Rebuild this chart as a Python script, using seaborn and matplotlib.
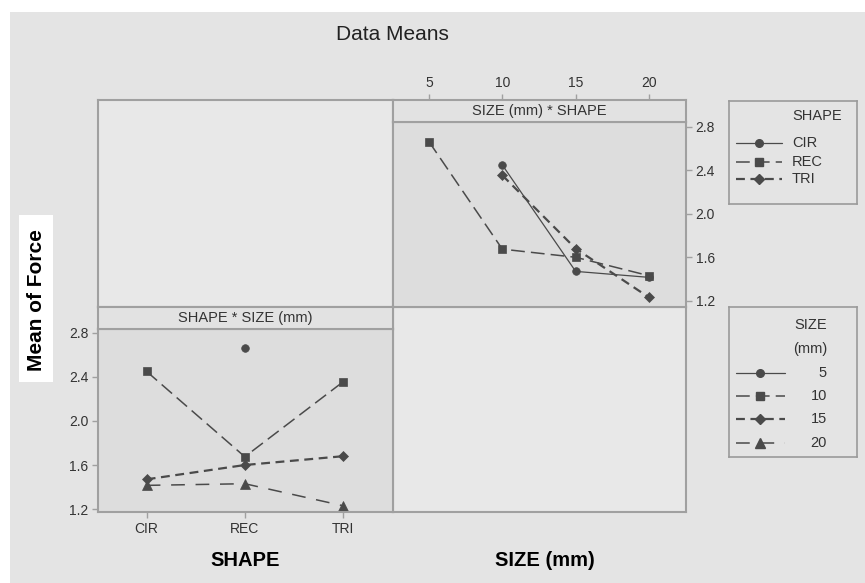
import numpy as np
import pandas as pd
import matplotlib
matplotlib.use("Agg")
import matplotlib.pyplot as plt
import seaborn as sns
from matplotlib.patches import Rectangle

# ---------------- data ----------------
shape_levels = ["CIR", "REC", "TRI"]
size_levels = [5, 10, 15, 20]
cir_means = [np.nan, 2.45, 1.47, 1.415]
rec_means = [2.665, 1.675, 1.60, 1.43]
tri_means = [np.nan, 2.355, 1.68, 1.23]
y_ticks = [1.2, 1.6, 2.0, 2.4, 2.8]

W, H = 865, 583
sns.set_theme(style="ticks")
plt.rcParams["font.family"] = ["Liberation Sans", "DejaVu Sans"]

rows = []
for shp, vals in zip(shape_levels, [cir_means, rec_means, tri_means]):
    for sz, v in zip(size_levels, vals):
        if not np.isnan(v):
            rows.append((shp, sz, v))
df = pd.DataFrame(rows, columns=["SHAPE", "SIZE", "Force"])
df["shape_pos"] = df["SHAPE"].map({s: i for i, s in enumerate(shape_levels)})

INK = "#4a4a4a"
FRAME = "#a0a0a0"
TXT = "#333333"
TICK_FS = 10
SMALL_FS = 10.5

shape_style = {
    "CIR": dict(marker="o", ls="-", lw=0.9, ms=5.5),
    "REC": dict(marker="s", ls=(0, (9, 4)), lw=1.1, ms=5.5),
    "TRI": dict(marker="D", ls=(0, (4, 2.5)), lw=1.6, ms=5.2),
}
size_style = {
    5: dict(marker="o", ls="-", lw=0.9, ms=5.5),
    10: dict(marker="s", ls=(0, (9, 4)), lw=1.1, ms=5.5),
    15: dict(marker="D", ls=(0, (4, 2.5)), lw=1.6, ms=5.2),
    20: dict(marker="^", ls=(0, (9, 7)), lw=1.1, ms=6.5),
}

fig = plt.figure(figsize=(W / 100, H / 100), dpi=100, facecolor="white")


def R(x0, y0, x1, y1):
    return [x0 / W, 1 - y1 / H, (x1 - x0) / W, (y1 - y0) / H]


# gray page background
fig.add_artist(Rectangle((10 / W, 0), (W - 10) / W, (H - 12) / H,
                         transform=fig.transFigure, facecolor="#e4e4e4",
                         edgecolor="none", zorder=-10))


def frame(ax, fc):
    ax.set_facecolor(fc)
    for s in ax.spines.values():
        s.set_color(FRAME)
        s.set_linewidth(1.5)
        s.set_visible(True)


def blank(ax):
    ax.set_xticks([])
    ax.set_yticks([])
    ax.set_xlabel("")
    ax.set_ylabel("")


# empty quadrants
ax_tl = fig.add_axes(R(98, 100, 393, 307))
ax_br = fig.add_axes(R(393, 307, 686, 512))
for a in (ax_tl, ax_br):
    frame(a, "#e8e8e8")
    blank(a)

# ---------- top-right panel: SIZE * SHAPE ----------
ax_tr = fig.add_axes(R(393, 122, 686, 307))
frame(ax_tr, "#dddddd")
for shp in shape_levels:
    st = shape_style[shp]
    sns.lineplot(data=df[df["SHAPE"] == shp], x="SIZE", y="Force", ax=ax_tr,
                 color=INK, marker=st["marker"], linestyle=st["ls"], lw=st["lw"],
                 markersize=st["ms"], mec=INK, mew=0.5, errorbar=None)
ax_tr.set_xlim(2.55, 22.52)
ax_tr.set_ylim(1.142, 2.846)
ax_tr.set_xticks([])
ax_tr.set_xlabel("")
ax_tr.set_ylabel("")
ax_tr.yaxis.tick_right()
ax_tr.set_yticks(y_ticks)
ax_tr.set_yticklabels([f"{t:.1f}" for t in y_ticks])
ax_tr.tick_params(axis="y", right=True, left=False, length=4, width=1,
                  color=FRAME, labelcolor=TXT, labelsize=TICK_FS, pad=3)

strip_tr = fig.add_axes(R(393, 100, 686, 122))
frame(strip_tr, "#e2e2e2")
strip_tr.set_xlim(ax_tr.get_xlim())
strip_tr.set_yticks([])
strip_tr.xaxis.tick_top()
strip_tr.set_xticks(size_levels)
strip_tr.set_xticklabels([str(s) for s in size_levels])
strip_tr.tick_params(axis="x", top=True, bottom=False, length=4, width=1,
                     color=FRAME, labelcolor=TXT, labelsize=TICK_FS, pad=3)
strip_tr.text(0.5, 0.5, "SIZE (mm) * SHAPE", transform=strip_tr.transAxes,
              ha="center", va="center", fontsize=SMALL_FS, color=TXT)

# ---------- bottom-left panel: SHAPE * SIZE ----------
ax_bl = fig.add_axes(R(98, 329, 393, 512))
frame(ax_bl, "#dddddd")
for sz in size_levels:
    st = size_style[sz]
    sns.lineplot(data=df[df["SIZE"] == sz], x="shape_pos", y="Force", ax=ax_bl,
                 color=INK, marker=st["marker"], linestyle=st["ls"], lw=st["lw"],
                 markersize=st["ms"], mec=INK, mew=0.5, errorbar=None)
ax_bl.set_xlim(-0.496, 2.51)
ax_bl.set_ylim(1.173, 2.836)
ax_bl.set_xlabel("")
ax_bl.set_ylabel("")
ax_bl.set_xticks(range(len(shape_levels)))
ax_bl.set_xticklabels(shape_levels)
ax_bl.set_yticks(y_ticks)
ax_bl.set_yticklabels([f"{t:.1f}" for t in y_ticks])
ax_bl.tick_params(axis="both", left=True, bottom=True, length=4, width=1,
                  color=FRAME, labelcolor=TXT, labelsize=TICK_FS, pad=3)

strip_bl = fig.add_axes(R(98, 307, 393, 329))
frame(strip_bl, "#e2e2e2")
blank(strip_bl)
strip_bl.text(0.5, 0.5, "SHAPE * SIZE (mm)", transform=strip_bl.transAxes,
              ha="center", va="center", fontsize=SMALL_FS, color=TXT)

# ---------- legends ----------
def legend_box(x0, y0, x1, y1):
    ax = fig.add_axes(R(x0, y0, x1, y1))
    ax.set_facecolor("#e4e4e4")
    for s in ax.spines.values():
        s.set_color("#9a9a9a")
        s.set_linewidth(1.2)
    ax.set_xlim(x0, x1)
    ax.set_ylim(y1, y0)
    blank(ax)
    return ax


lg1 = legend_box(729, 101, 857, 204)
lg1.text(792, 116, "SHAPE", ha="left", va="center", fontsize=SMALL_FS, color=TXT)
for shp, yy in zip(shape_levels, [143, 162, 179]):
    st = shape_style[shp]
    lg1.plot([736, 759, 782], [yy, yy, yy], color=INK, ls=st["ls"], lw=st["lw"],
             marker=st["marker"], ms=st["ms"], markevery=[1], mec=INK, clip_on=False)
    lg1.text(792, yy, shp, ha="left", va="center", fontsize=SMALL_FS, color=TXT)

lg2 = legend_box(729, 307, 857, 457)
lg2.text(827, 325, "SIZE", ha="right", va="center", fontsize=SMALL_FS, color=TXT)
lg2.text(827, 349, "(mm)", ha="right", va="center", fontsize=SMALL_FS, color=TXT)
for sz, yy in zip(size_levels, [373, 396, 419, 443]):
    st = size_style[sz]
    lg2.plot([736, 760, 785], [yy, yy, yy], color=INK, ls=st["ls"], lw=st["lw"],
             marker=st["marker"], ms=st["ms"], markevery=[1], mec=INK, clip_on=False)
    lg2.text(827, yy, str(sz), ha="right", va="center", fontsize=SMALL_FS, color=TXT)

# ---------- titles & labels ----------
fig.text(392 / W, 1 - 35 / H, "Data Means", ha="center", va="center",
         fontsize=15, color="#222222")
fig.add_artist(Rectangle((19 / W, 1 - 382 / H), 34 / W, 167 / H,
                         transform=fig.transFigure, facecolor="white",
                         edgecolor="none", zorder=1))
fig.text(36 / W, 1 - 300 / H, "Mean of Force", rotation=90, ha="center",
         va="center", fontsize=15, fontweight="bold", color="black", zorder=2)
fig.text(245 / W, 1 - 560 / H, "SHAPE", ha="center", va="center",
         fontsize=14.5, fontweight="bold", color="black")
fig.text(545 / W, 1 - 560 / H, "SIZE (mm)", ha="center", va="center",
         fontsize=14.5, fontweight="bold", color="black")

fig.savefig("out.png", dpi=100, facecolor="white")
